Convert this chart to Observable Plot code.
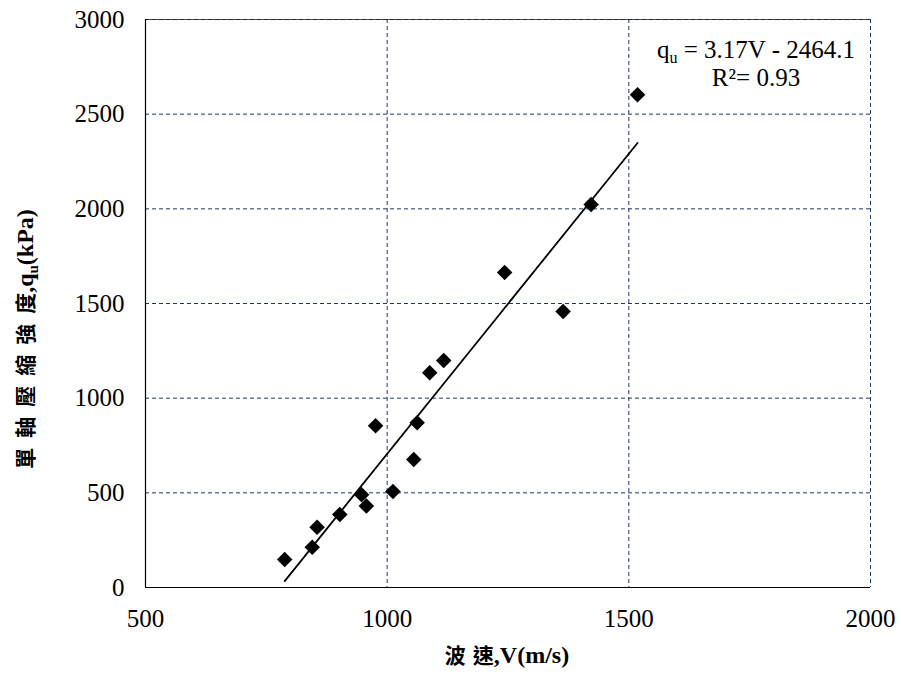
<!DOCTYPE html>
<html lang="zh-Hant">
<head>
<meta charset="utf-8">
<script src="https://cdn.jsdelivr.net/npm/d3@7"></script>
<script src="https://cdn.jsdelivr.net/npm/@observablehq/plot@0.6"></script>
</head>
<body style="margin:0">
<script>
// Wave velocity V (m/s)
const velocity = [788, 845, 855, 902, 947, 957, 976, 1012, 1055, 1062, 1088, 1117, 1243, 1364, 1422, 1518];
// Unconfined compressive strength qu (kPa)
const strength = [148, 213, 318, 386, 490, 430, 854, 507, 676, 870, 1134, 1199, 1664, 1458, 2023, 2602];
const xTicks = [500, 1000, 1500, 2000];
const yTicks = [0, 500, 1000, 1500, 2000, 2500, 3000];
const slope = 3.17, intercept = -2464.1;
const eqText = " = 3.17V - 2464.1";
const r2Text = "R\u00b2= 0.93";
const xTitleCjk = "波速";
const yTitleCjk = "單軸壓縮強度";

const points = velocity.map((v, i) => ({v, q: strength[i]}));
const vExt = d3.extent(velocity);
const trend = vExt.map(v => ({v, q: slope * v + intercept}));

const gridColor = "#1f3864";
const SERIF = "Liberation Serif";
const CJK = "Noto Sans CJK TC";

const chart = Plot.plot({
  width: 901,
  height: 680,
  marginLeft: 145,
  marginRight: 31,
  marginTop: 19,
  marginBottom: 93,
  style: "font-family: 'Liberation Serif', 'Times New Roman', serif; font-size: 25px; background: #fff; color: #000;",
  x: {domain: [500, 2000]},
  y: {domain: [0, 3000]},
  marks: [
    Plot.gridX(xTicks.slice(1), {stroke: gridColor, strokeOpacity: 1, strokeDasharray: "4,3", strokeWidth: 1}),
    Plot.gridY(yTicks.slice(1), {stroke: gridColor, strokeOpacity: 1, strokeDasharray: "4,3", strokeWidth: 1}),
    Plot.ruleY([3000], {stroke: "#222", strokeWidth: 0.8}),
    Plot.ruleX([500], {stroke: "#000", strokeWidth: 1.2}),
    Plot.ruleY([0], {stroke: "#000", strokeWidth: 1.2}),
    Plot.axisX({ticks: xTicks, tickSize: 0, tickPadding: 22, label: null, tickFormat: d => String(d), fontSize: 25, fontFamily: SERIF, fontVariant: "normal"}),
    Plot.axisY({ticks: yTicks, tickSize: 0, tickPadding: 21, label: null, tickFormat: d => String(d), fontSize: 25, fontFamily: SERIF, fontVariant: "normal"}),
    Plot.line(trend, {x: "v", y: "q", stroke: "#000", strokeWidth: 1.8}),
    Plot.dot(points, {x: "v", y: "q", symbol: "diamond2", r: 7, fill: "#000", stroke: "none"})
  ]
});

document.body.appendChild(chart);

const svg = d3.select(chart);

// Equation annotation
const eq = svg.append("text")
  .attr("class", "latin")
  .attr("x", 756).attr("y", 58).attr("text-anchor", "middle")
  .attr("font-family", SERIF).attr("font-size", 25).attr("fill", "#000");
eq.append("tspan").attr("class", "latin").text("q");
eq.append("tspan").attr("class", "latin").attr("font-size", 16).attr("dy", 5).text("u");
eq.append("tspan").attr("class", "latin").attr("dy", -5).text(eqText);

svg.append("text")
  .attr("class", "latin")
  .attr("x", 756).attr("y", 86).attr("text-anchor", "middle")
  .attr("font-family", SERIF).attr("font-size", 25).attr("fill", "#000")
  .text(r2Text);

// X axis title
const xt = svg.append("text")
  .attr("class", "latin")
  .attr("x", 507).attr("y", 663).attr("text-anchor", "middle")
  .attr("font-family", SERIF).attr("font-weight", "bold").attr("font-size", 24).attr("fill", "#000");
xt.append("tspan").attr("class", "cjk").attr("font-family", CJK).attr("font-size", 21).attr("letter-spacing", 7).text(xTitleCjk.slice(0, -1));
xt.append("tspan").attr("class", "cjk").attr("font-family", CJK).attr("font-size", 21).text(xTitleCjk.slice(-1));
xt.append("tspan").attr("class", "latin").text(",V(m/s)");

// Y axis title
const yt = svg.append("text")
  .attr("class", "latin")
  .attr("transform", "translate(33,339) rotate(-90)").attr("text-anchor", "middle")
  .attr("font-family", SERIF).attr("font-weight", "bold").attr("font-size", 24).attr("fill", "#000");
yt.append("tspan").attr("class", "cjk").attr("font-family", CJK).attr("font-size", 21).attr("letter-spacing", 10).text(yTitleCjk.slice(0, -1));
yt.append("tspan").attr("class", "cjk").attr("font-family", CJK).attr("font-size", 21).text(yTitleCjk.slice(-1));
yt.append("tspan").attr("class", "latin").text(",q");
yt.append("tspan").attr("class", "latin").attr("font-size", 15).attr("dy", 5).text("u");
yt.append("tspan").attr("class", "latin").attr("dy", -5).text("(kPa)");

function applyFonts() {
  svg.selectAll("g[aria-label$='axis'] text, text.latin, tspan.latin")
    .style("font-family", "'Liberation Serif', 'Times New Roman', serif", "important");
  svg.selectAll("tspan.cjk")
    .style("font-family", "'Noto Sans CJK TC', sans-serif", "important");
}
applyFonts();
requestAnimationFrame(applyFonts);
setTimeout(applyFonts, 50);
</script>
</body>
</html>
